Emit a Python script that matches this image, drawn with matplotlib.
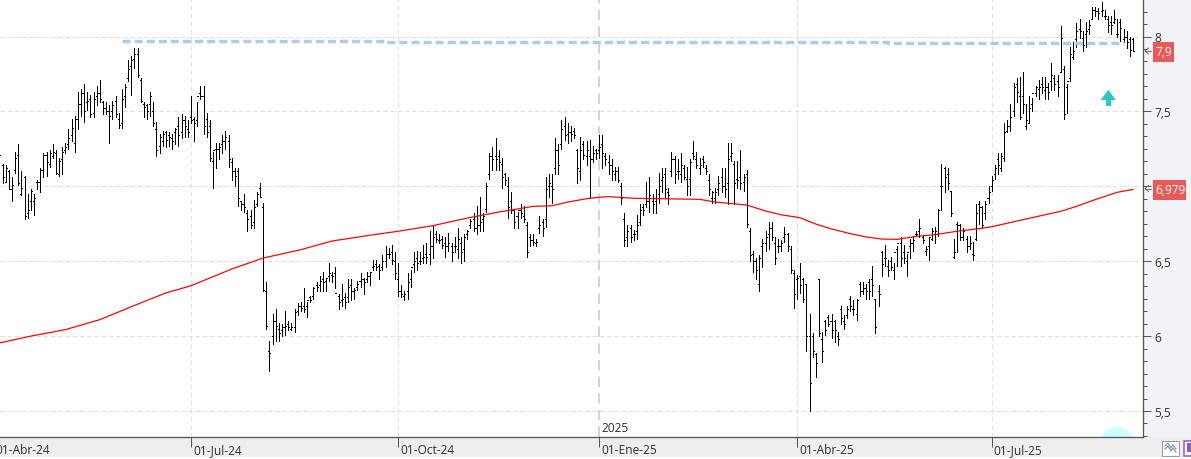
import matplotlib
matplotlib.use("Agg")
import matplotlib.pyplot as plt
from matplotlib.collections import LineCollection
from matplotlib.lines import Line2D
from matplotlib.patches import Rectangle, Polygon, Circle
from matplotlib.transforms import IdentityTransform
from matplotlib.ticker import MultipleLocator, FixedLocator, FuncFormatter

plt.rcParams['lines.scale_dashes'] = False
plt.rcParams['font.family'] = ['Open Sans', 'DejaVu Sans']

W, H = 1191, 460
PLOT_R, PLOT_B = 1143, 438
BAR_STEP = 3.14
FIRST_BAR_PX = -0.6

highs = [
 7.30,7.15,7.14,7.11,7.06,7.23,7.28,7.10,7.07,6.95,6.98,6.95,7.04,7.12,7.22,7.23,7.24,7.28,7.24,7.19,
 7.26,7.29,7.38,7.45,7.47,7.63,7.65,7.68,7.63,7.61,7.63,7.67,7.71,7.57,7.56,7.54,7.57,7.60,7.49,7.65,
 7.68,7.84,7.87,7.92,7.92,7.72,7.56,7.55,7.63,7.56,7.43,7.35,7.37,7.37,7.36,7.35,7.39,7.46,7.48,7.47,
 7.44,7.60,7.46,7.56,7.67,7.67,7.49,7.44,7.23,7.29,7.29,7.34,7.37,7.34,7.19,7.12,7.12,6.90,6.95,6.84,
 6.84,6.91,6.96,7.02,6.89,6.36,5.97,6.15,6.18,6.09,6.08,6.17,6.10,6.09,6.18,6.22,6.23,6.32,6.23,6.27,
 6.33,6.36,6.40,6.43,6.38,6.49,6.43,6.46,6.28,6.35,6.29,6.38,6.38,6.32,6.37,6.42,6.39,6.43,6.42,6.51,
 6.51,6.48,6.54,6.60,6.59,6.61,6.56,6.49,6.34,6.30,6.42,6.44,6.56,6.57,6.56,6.61,6.62,6.70,6.74,6.70,
 6.68,6.67,6.66,6.69,6.62,6.66,6.72,6.66,6.68,6.71,6.78,6.82,6.87,6.93,6.82,7.02,7.22,7.26,7.32,7.24,
 7.19,7.09,7.06,6.96,6.85,6.83,6.88,6.87,6.76,6.68,6.68,6.65,6.80,6.78,7.06,7.08,7.08,7.32,7.28,7.44,
 7.46,7.42,7.40,7.39,7.25,7.33,7.30,7.30,7.31,7.27,7.25,7.34,7.34,7.22,7.21,7.18,7.13,7.13,7.02,6.82,
 6.74,6.74,6.71,6.81,6.88,6.88,7.03,7.06,6.95,6.98,7.09,7.12,7.12,6.99,7.23,7.20,7.18,7.22,7.14,7.13,
 7.18,7.30,7.23,7.19,7.20,7.14,7.08,6.97,6.99,7.07,7.12,7.12,7.29,7.29,7.17,7.17,7.24,7.08,7.11,6.72,
 6.57,6.52,6.54,6.65,6.70,6.76,6.76,6.66,6.65,6.64,6.73,6.69,6.60,6.44,6.41,6.49,6.39,6.35,6.15,6.02,
 5.89,6.38,6.03,6.11,6.14,6.15,6.11,6.03,6.20,6.14,6.20,6.27,6.24,6.25,6.36,6.36,6.35,6.38,6.47,6.25,
 6.34,6.57,6.61,6.51,6.53,6.49,6.60,6.66,6.61,6.55,6.65,6.67,6.70,6.78,6.67,6.60,6.66,6.72,6.73,6.85,
 7.15,7.13,7.12,6.97,6.65,6.76,6.75,6.72,6.67,6.67,6.63,6.88,6.90,6.87,6.90,7.00,7.07,7.14,7.22,7.22,
 7.42,7.44,7.55,7.69,7.72,7.73,7.76,7.55,7.60,7.59,7.67,7.71,7.73,7.73,7.69,7.82,7.74,7.74,8.07,7.80,
 7.68,7.93,7.96,8.09,8.12,8.04,8.10,8.11,8.20,8.20,8.19,8.23,8.18,8.14,8.14,8.18,8.12,8.12,8.05,8.04,
 8.00,7.99,
]

lows = [
 7.12,7.02,7.03,6.98,6.90,7.09,7.01,6.94,6.78,6.79,6.84,6.81,6.98,6.96,7.06,7.07,7.13,7.19,7.08,7.07,
 7.08,7.22,7.25,7.30,7.23,7.38,7.47,7.43,7.51,7.46,7.46,7.54,7.56,7.48,7.48,7.29,7.45,7.46,7.39,7.39,
 7.53,7.70,7.61,7.79,7.73,7.56,7.46,7.45,7.47,7.40,7.20,7.22,7.27,7.26,7.27,7.25,7.28,7.27,7.32,7.33,
 7.33,7.42,7.30,7.40,7.58,7.35,7.33,7.17,6.99,7.12,7.18,7.22,7.25,7.13,7.04,7.00,6.87,6.84,6.83,6.70,
 6.72,6.72,6.87,6.93,6.30,6.05,5.77,5.95,5.97,5.97,6.00,6.01,6.04,6.04,6.03,6.14,6.17,6.16,6.13,6.23,
 6.25,6.30,6.30,6.30,6.30,6.37,6.36,6.32,6.18,6.20,6.19,6.23,6.24,6.25,6.31,6.33,6.28,6.36,6.34,6.44,
 6.44,6.38,6.44,6.46,6.52,6.48,6.38,6.27,6.26,6.24,6.25,6.33,6.43,6.44,6.48,6.49,6.49,6.48,6.52,6.63,
 6.62,6.59,6.53,6.57,6.50,6.56,6.52,6.49,6.50,6.65,6.72,6.70,6.68,6.70,6.70,6.83,7.05,7.11,7.11,7.11,
 6.99,7.01,6.79,6.82,6.72,6.72,6.79,6.76,6.53,6.60,6.61,6.60,6.69,6.67,6.73,6.93,6.89,7.08,7.08,7.25,
 7.31,7.29,7.30,7.32,7.02,7.04,7.18,7.14,6.92,7.16,7.18,7.19,7.12,7.14,7.08,7.04,7.04,7.03,6.88,6.60,
 6.60,6.63,6.64,6.65,6.74,6.81,6.86,6.83,6.82,6.82,6.89,6.96,6.92,6.88,7.07,7.02,7.05,7.03,7.05,6.94,
 6.94,7.18,7.12,7.08,7.13,7.08,6.94,6.89,6.89,6.94,6.96,6.93,6.88,7.17,6.88,6.99,6.98,6.97,6.73,6.50,
 6.43,6.38,6.30,6.46,6.57,6.58,6.64,6.48,6.56,6.57,6.63,6.57,6.42,6.19,6.25,6.29,6.23,5.90,5.50,5.86,
 5.73,6.00,5.83,6.01,6.07,5.99,5.96,5.94,6.08,6.05,6.12,6.17,6.14,6.11,6.27,6.28,6.25,6.25,6.27,6.02,
 6.20,6.40,6.47,6.40,6.44,6.38,6.47,6.47,6.49,6.40,6.52,6.57,6.67,6.66,6.62,6.54,6.51,6.64,6.62,6.67,
 6.84,6.96,6.98,6.80,6.52,6.56,6.64,6.64,6.56,6.58,6.51,6.64,6.75,6.72,6.78,6.89,6.97,7.05,7.08,7.10,
 7.17,7.36,7.37,7.47,7.56,7.45,7.49,7.38,7.42,7.50,7.60,7.58,7.62,7.58,7.58,7.64,7.64,7.60,7.76,7.45,
 7.49,7.70,7.85,7.93,7.99,7.90,7.93,8.02,8.12,8.14,8.12,8.14,8.12,8.03,8.02,8.09,8.00,7.97,7.96,7.92,
 7.87,7.90,
]

opens = [
 7.25,7.14,7.03,7.10,6.98,7.11,7.21,6.95,7.06,6.82,6.90,6.90,7.03,7.03,7.11,7.21,7.15,7.20,7.22,7.08,
 7.18,7.24,7.28,7.34,7.29,7.45,7.55,7.62,7.56,7.58,7.49,7.60,7.62,7.56,7.52,7.50,7.50,7.57,7.45,7.42,
 7.60,7.72,7.80,7.85,7.88,7.71,7.55,7.54,7.55,7.50,7.38,7.27,7.30,7.36,7.34,7.32,7.36,7.40,7.36,7.44,
 7.38,7.46,7.45,7.44,7.62,7.60,7.45,7.40,7.17,7.25,7.25,7.28,7.30,7.30,7.16,7.10,7.10,6.90,6.88,6.82,
 6.80,6.76,6.88,6.99,6.86,6.30,5.90,6.00,6.10,6.05,6.04,6.06,6.08,6.05,6.06,6.17,6.20,6.20,6.20,6.26,
 6.27,6.34,6.34,6.38,6.37,6.40,6.41,6.42,6.27,6.24,6.26,6.26,6.34,6.30,6.33,6.37,6.38,6.38,6.40,6.46,
 6.48,6.47,6.46,6.50,6.55,6.56,6.50,6.38,6.30,6.27,6.30,6.38,6.48,6.52,6.50,6.52,6.55,6.55,6.60,6.68,
 6.64,6.65,6.62,6.60,6.60,6.60,6.58,6.62,6.58,6.68,6.74,6.78,6.72,6.74,6.78,6.85,7.08,7.20,7.20,7.20,
 7.15,7.08,7.00,6.90,6.84,6.80,6.84,6.80,6.74,6.66,6.64,6.62,6.72,6.76,6.78,7.00,7.00,7.12,7.24,7.28,
 7.40,7.35,7.36,7.37,7.24,7.10,7.28,7.20,7.20,7.18,7.24,7.24,7.28,7.20,7.16,7.14,7.08,7.10,7.00,6.78,
 6.66,6.72,6.68,6.70,6.76,6.86,6.88,6.90,6.90,6.90,6.95,7.04,7.08,6.96,7.10,7.18,7.10,7.08,7.12,7.05,
 7.05,7.22,7.18,7.12,7.18,7.12,7.04,6.92,6.92,6.98,7.06,7.00,7.02,7.20,7.15,7.05,7.06,7.03,7.08,6.70,
 6.55,6.50,6.35,6.60,6.62,6.68,6.72,6.62,6.60,6.60,6.66,6.68,6.58,6.42,6.38,6.40,6.38,6.35,6.00,6.00,
 5.88,6.38,5.98,6.10,6.13,6.10,6.10,6.00,6.18,6.10,6.14,6.25,6.18,6.15,6.35,6.30,6.32,6.36,6.38,6.25,
 6.30,6.56,6.52,6.47,6.50,6.44,6.58,6.62,6.56,6.50,6.60,6.62,6.68,6.70,6.66,6.57,6.60,6.65,6.68,6.68,
 7.00,7.12,7.08,6.97,6.53,6.75,6.74,6.66,6.65,6.60,6.55,6.65,6.88,6.86,6.82,6.92,7.00,7.08,7.18,7.12,
 7.19,7.37,7.40,7.50,7.68,7.60,7.60,7.40,7.42,7.55,7.62,7.65,7.68,7.64,7.66,7.70,7.72,7.70,7.76,7.78,
 7.66,7.72,7.86,7.98,8.05,7.99,8.02,8.05,8.12,8.18,8.17,8.17,8.14,8.12,8.10,8.10,8.02,8.10,7.98,8.00,
 7.98,7.98,
]

closes = [
 7.21,7.06,7.12,6.98,7.01,7.19,7.02,6.99,6.80,6.84,6.97,6.92,7.03,7.11,7.21,7.16,7.22,7.23,7.09,7.17,
 7.23,7.26,7.32,7.39,7.45,7.55,7.62,7.50,7.57,7.48,7.58,7.62,7.58,7.52,7.50,7.47,7.54,7.48,7.41,7.58,
 7.66,7.78,7.84,7.88,7.74,7.57,7.53,7.50,7.60,7.42,7.24,7.33,7.35,7.31,7.33,7.30,7.38,7.34,7.44,7.40,
 7.36,7.44,7.42,7.60,7.60,7.40,7.36,7.19,7.24,7.25,7.26,7.30,7.33,7.18,7.10,7.07,6.92,6.88,6.86,6.78,
 6.74,6.86,6.95,6.93,6.31,6.07,5.89,6.10,6.07,6.02,6.06,6.07,6.06,6.06,6.16,6.20,6.19,6.18,6.24,6.24,
 6.32,6.33,6.37,6.36,6.39,6.42,6.40,6.29,6.23,6.25,6.23,6.33,6.30,6.31,6.35,6.38,6.36,6.40,6.43,6.47,
 6.46,6.44,6.50,6.55,6.55,6.51,6.42,6.30,6.28,6.28,6.36,6.46,6.50,6.49,6.50,6.53,6.53,6.60,6.66,6.65,
 6.64,6.61,6.60,6.62,6.56,6.60,6.65,6.56,6.66,6.70,6.77,6.72,6.74,6.76,6.80,7.00,7.20,7.18,7.18,7.16,
 7.06,7.04,6.86,6.84,6.76,6.84,6.82,6.78,6.56,6.64,6.63,6.63,6.74,6.72,6.98,7.02,6.98,7.24,7.14,7.38,
 7.34,7.36,7.35,7.34,7.12,7.24,7.21,7.24,7.18,7.22,7.22,7.26,7.22,7.18,7.14,7.10,7.10,7.04,6.92,6.64,
 6.70,6.66,6.68,6.74,6.84,6.84,6.90,6.94,6.88,6.92,7.00,7.06,6.98,6.94,7.18,7.08,7.10,7.14,7.06,7.00,
 7.16,7.20,7.14,7.14,7.16,7.10,6.98,6.96,6.96,7.02,7.00,6.98,7.18,7.22,7.02,7.04,7.02,7.06,6.75,6.54,
 6.50,6.44,6.52,6.62,6.66,6.72,6.66,6.52,6.60,6.62,6.68,6.60,6.44,6.28,6.39,6.34,6.25,6.00,5.69,5.90,
 5.82,6.02,5.90,6.04,6.08,6.04,6.04,5.98,6.12,6.08,6.18,6.20,6.18,6.24,6.30,6.32,6.30,6.30,6.34,6.06,
 6.28,6.48,6.52,6.44,6.46,6.56,6.62,6.52,6.52,6.56,6.62,6.64,6.68,6.72,6.64,6.58,6.66,6.70,6.70,6.84,
 7.00,7.06,7.02,6.82,6.56,6.74,6.66,6.70,6.60,6.62,6.54,6.82,6.86,6.74,6.88,6.96,7.04,7.12,7.14,7.20,
 7.36,7.40,7.46,7.66,7.63,7.46,7.55,7.44,7.52,7.62,7.66,7.66,7.66,7.66,7.63,7.74,7.68,7.66,7.99,7.48,
 7.70,7.88,7.90,8.04,8.04,7.94,8.04,8.08,8.18,8.17,8.16,8.18,8.14,8.08,8.08,8.12,8.02,8.06,8.00,7.96,
 7.91,7.90,
]

# 200-session moving average, sampled at selected bars
sma_bars = [0,10,21,32,42,53,61,74,84,96,106,117,127,138,149,159,170,176,181,187,191,194,202,223,228,
            238,244,249,255,260,265,271,276,281,286,292,298,305,313,316,327,338,343,348,356,361]
sma_vals = [5.954,6.00,6.043,6.11,6.196,6.288,6.336,6.448,6.521,6.577,6.635,6.67,6.70,6.737,6.788,6.828,
            6.866,6.87,6.895,6.917,6.927,6.931,6.92,6.913,6.895,6.875,6.835,6.81,6.79,6.748,6.715,6.684,
            6.662,6.648,6.646,6.666,6.677,6.70,6.72,6.73,6.782,6.833,6.866,6.904,6.96,6.979]

# Resistance level drawn as a stepped dashed line
level_bars = [39, 123, 123, 283, 283, 358]
level_vals = [7.973, 7.973, 7.965, 7.965, 7.958, 7.958]

price_ticks = [5.5, 6, 6.5, 7, 7.5, 8]
date_bars = [-2, 61, 127, 254, 316]
date_labels = ['01-Abr-24', '01-Jul-24', '01-Oct-24', '01-Abr-25', '01-Jul-25']
year_bar = 191
year_label = '2025'
year_date_label = '01-Ene-25'
last_price_label = '7,9'
last_sma_label = '6,979'


def lw(px):
    return px * 72 / 100


def fmt_price(v, _=None):
    # The 7 sits under the moving-average flag
    return '' if v == 7 else f'{v:g}'.replace('.', ',')


fig = plt.figure(figsize=(W / 100, H / 100), dpi=100, facecolor='white')
ax = fig.add_axes([0, 1 - PLOT_B / H, PLOT_R / W, PLOT_B / H], zorder=2)
ax.set_facecolor('white')

ax.set_xlim((0 - FIRST_BAR_PX) / BAR_STEP, (PLOT_R - FIRST_BAR_PX) / BAR_STEP)
ax.set_ylim(8 - (PLOT_B - 37.5) / 149.8, 8 + 37.5 / 149.8)


def px_rect(x0, y0, x1, y1, **kw):
    return Rectangle((x0, H - y1), x1 - x0, y1 - y0, transform=IdentityTransform(), **kw)


# Window chrome around the chart
fig.add_artist(px_rect(PLOT_R, 0, W, PLOT_B, facecolor='#f1f3f6', edgecolor='none'))
fig.add_artist(px_rect(0, PLOT_B, W, 458, facecolor='#eeeeee', edgecolor='none'))

# Grid
GRID = '#dedede'
for p in price_ticks:
    ax.axhline(p, color=GRID, lw=lw(1), dashes=(3.2, 2.0), zorder=1)
for b in date_bars:
    ax.axvline(b, color=GRID, lw=lw(1), dashes=(3.2, 2.6), zorder=1)
ax.axvline(year_bar, color='#d4d4d4', lw=lw(2), dashes=(7.5, 4.5), zorder=1)

# Faint circle cut off by the lower edge
ax.add_patch(Circle((1116.7, H - 445.8), 17.8, transform=IdentityTransform(),
                    facecolor='#c9ffff', edgecolor='none', zorder=1.5))

# OHLC bars
idx = range(len(highs))
stems = [((i, lows[i]), (i, highs[i])) for i in idx]
left = [((i - 0.32, opens[i]), (i, opens[i])) for i in idx]
right = [((i, closes[i]), (i + 0.32, closes[i])) for i in idx]
bars = LineCollection(stems + left + right, colors='#000000', linewidths=lw(1.0),
                      capstyle='butt', zorder=3)
bars.set_antialiased(False)
ax.add_collection(bars)

# Moving average and resistance level
ax.plot(sma_bars, sma_vals, color='#f00808', lw=lw(1.25), zorder=4)
ax.plot(level_bars, level_vals, color='#a9cdf1', lw=lw(3.4), dashes=(5.8, 2.9),
        dash_capstyle='butt', zorder=5)

# Axes
for s in ('top', 'left'):
    ax.spines[s].set_visible(False)
for s in ('right', 'bottom'):
    ax.spines[s].set_color('#555555')
    ax.spines[s].set_linewidth(lw(1.3))
ax.yaxis.tick_right()
ax.yaxis.set_major_locator(FixedLocator(price_ticks))
ax.yaxis.set_minor_locator(MultipleLocator(0.5 / 6))
ax.yaxis.set_major_formatter(FuncFormatter(fmt_price))
ax.tick_params(axis='y', which='major', length=lw(8), width=lw(1), color='#555555',
               labelsize=8.6, labelcolor='#2f2f2f', pad=lw(3))
ax.tick_params(axis='y', which='minor', length=lw(4), width=lw(1), color='#555555')
ax.xaxis.set_major_locator(FixedLocator(date_bars[1:3] + [year_bar] + date_bars[3:]))
ax.xaxis.set_major_formatter(FuncFormatter(lambda *_: ''))
ax.tick_params(axis='x', which='major', length=lw(10), width=lw(1), color='#555555')


def px_text(x, y, s, **kw):
    kw.setdefault('fontsize', 8.6)
    kw.setdefault('color', '#2f2f2f')
    kw.setdefault('va', 'center')
    kw.setdefault('ha', 'left')
    return fig.text(x / W, 1 - y / H, s, zorder=6, **kw)


# Date labels along the bottom strip
all_bars = date_bars[:3] + [year_bar] + date_bars[3:]
all_labels = date_labels[:3] + [year_date_label] + date_labels[3:]
for b, s in zip(all_bars, all_labels):
    px_text(FIRST_BAR_PX + BAR_STEP * b + 2, 450.5, s)
px_text(FIRST_BAR_PX + BAR_STEP * year_bar + 2, 429, year_label)

# Last-value flags on the price axis
for y, s, x1 in ((53, last_price_label, 1173.5), (190.5, last_sma_label, 1186)):
    fig.add_artist(px_rect(1153, y - 10, x1, y + 10, facecolor='#e85a5a', edgecolor='none', zorder=5))
    px_text(1155.5, y, s, color='white')
    fig.add_artist(Line2D([1145, 1151], [H - y + 1, H - y + 1], color='#555555', lw=lw(0.8),
                          transform=IdentityTransform(), zorder=5))
    fig.add_artist(Line2D([1148.5, 1145, 1148.5], [H - y + 4, H - y + 1, H - y - 2], color='#555555',
                          lw=lw(0.8), transform=IdentityTransform(), zorder=5))

# Up arrow signal
arrow = [(1108.3, 90.7), (1116, 101), (1111.3, 101), (1111.3, 107), (1106, 107), (1106, 101), (1100.7, 101)]
ax.add_patch(Polygon([(x, H - y) for x, y in arrow], closed=True, transform=IdentityTransform(),
                     facecolor='#2fc6c6', edgecolor='none', zorder=6))

# Toolbar buttons in the lower right corner
fig.add_artist(px_rect(1161.5, 441.5, 1178.5, 456.5, facecolor='#fbfbfb', edgecolor='#9a9a9a', lw=lw(1), zorder=5))
for dy, c in ((0, '#6aa5d8'), (3, '#8f8f8f')):
    xs = [1165, 1168, 1171, 1173, 1176]
    ys = [447 + dy, 444 + dy, 449 + dy, 446 + dy, 450 + dy]
    fig.add_artist(Line2D(xs, [H - v for v in ys], color=c, lw=lw(1.2),
                          transform=IdentityTransform(), zorder=6))
fig.add_artist(px_rect(1183.5, 441.5, 1193, 456.5, facecolor='#fbfbfb', edgecolor='#8a5bc9', lw=lw(1.5), zorder=5))
fig.add_artist(px_rect(1187, 444, 1193, 453, facecolor='#8a5bc9', edgecolor='none', zorder=6))

fig.savefig('out.png', dpi=100, facecolor='white')
assert len(highs) == len(lows) == len(opens) == len(closes) == 362
